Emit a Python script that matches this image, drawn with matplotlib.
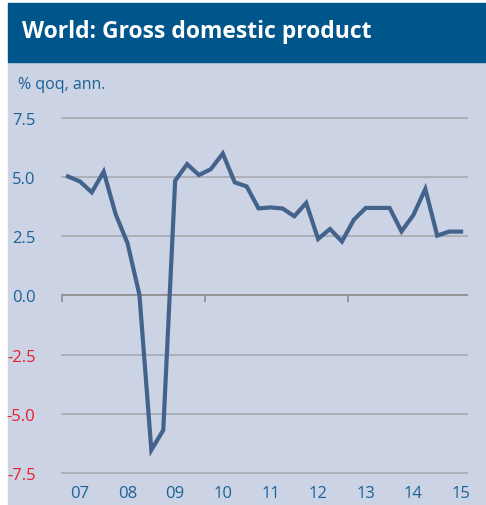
import matplotlib
matplotlib.use('Agg')
import matplotlib.pyplot as plt
from matplotlib.patches import Rectangle
import numpy as np

plt.rcParams['font.family'] = ['Open Sans', 'DejaVu Sans']

# quarterly GDP growth, % qoq annualised
gdp = [5.03, 4.82, 4.36, 5.23, 3.44, 2.21, 0.03, -6.53, -5.69, 4.85,
       5.55, 5.09, 5.34, 6.00, 4.78, 4.61, 3.68, 3.72, 3.68, 3.35,
       3.91, 2.39, 2.81, 2.28, 3.20, 3.70, 3.70, 3.70, 2.71, 3.40,
       4.50, 2.53, 2.70, 2.70]
year_labels = ['07', '08', '09', '10', '11', '12', '13', '14', '15']
y_ticks = [7.5, 5.0, 2.5, 0.0, -2.5, -5.0, -7.5]

title = 'World: Gross domestic product'
unit = '% qoq, ann.'

BANNER = '#00568a'
BG = '#cbd3e4'
LINE = '#44638c'
BLUE_TXT = '#1d6296'
RED_TXT = '#e8202a'
ZERO = '#8c8c8c'

W, H = 486, 506
fig = plt.figure(figsize=(W / 100, H / 100), dpi=100)
fig.patches.append(Rectangle((8 / W, 0), 1 - 8 / W, (H - 63) / H,
                             transform=fig.transFigure, color=BG, zorder=-5))
fig.patches.append(Rectangle((8 / W, (H - 63) / H), 1 - 8 / W, 59 / H,
                             transform=fig.transFigure, color=BANNER, zorder=-5))
fig.text(22 / W, 1 - 32 / H, title, color='white', fontsize=16.5,
         fontweight='bold', va='center', ha='left')
fig.text(18 / W, 1 - 85 / H, unit, color=BLUE_TXT, fontsize=11.5,
         va='center', ha='left')

ax = fig.add_axes([62 / W, 32 / H, 405 / W, 355 / H], zorder=2)
ax.set_facecolor('none')
n = len(gdp)
x = np.arange(n)
ax.set_xlim(-0.5, n - 0.5)
ax.set_ylim(-7.5, 7.5)

for v in y_ticks:
    if v != 0:
        ax.axhline(v, color='#a9adb5', lw=1.3, zorder=1, clip_on=False)

ax.plot(x, gdp, color=LINE, lw=3, solid_joinstyle='miter', zorder=3)

for s in ax.spines.values():
    s.set_visible(False)

ax.set_yticks(y_ticks)
ax.set_yticklabels([f'{v:.1f}' for v in y_ticks])
ax.tick_params(axis='y', length=0, pad=19, labelsize=12)
for lab, v in zip(ax.get_yticklabels(), y_ticks):
    lab.set_color(RED_TXT if v < 0 else BLUE_TXT)

ax.set_xticks(x[1::4])
ax.set_xticklabels(year_labels)
ax.tick_params(axis='x', length=0, pad=9, labelsize=12, labelcolor=BLUE_TXT)

# zero line with tick marks every 3 years
zero = ax.secondary_xaxis(0.5)
for s in zero.spines.values():
    s.set_color(ZERO)
    s.set_linewidth(1.3)
zero.xaxis.set_ticks_position('bottom')
zero.set_xticks(np.arange(-0.5, n, 12))
zero.set_xticklabels([])
zero.tick_params(axis='x', which='both', length=4, width=1.2, color=ZERO,
                 direction='out')
ax.set_zorder(2)

fig.savefig('out.png', dpi=100)
